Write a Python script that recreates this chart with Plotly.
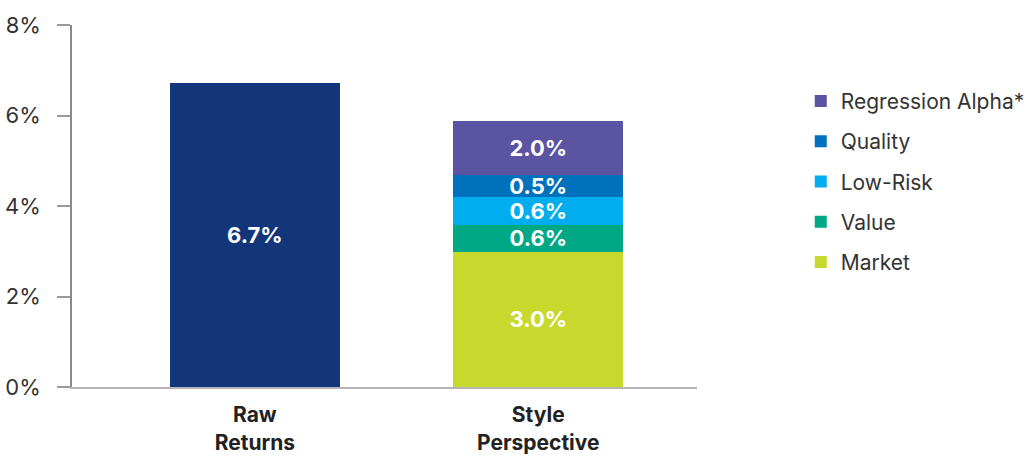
import plotly.graph_objects as go

categories = ["Raw<br>Returns", "Style<br>Perspective"]
raw_value = [6.71]
raw_label = ["6.7%"]
series_names = ["Market", "Value", "Low-Risk", "Quality", "Regression Alpha*"]
series_values = [2.99, 0.59, 0.62, 0.48, 1.20]
series_labels = ["3.0%", "0.6%", "0.6%", "0.5%", "2.0%"]
series_colors = ["#C8D92E", "#00A886", "#00AEEF", "#0071BC", "#5B54A3"]
raw_color = "#13367B"
y_ticks = [0, 2, 4, 6, 8]
y_ticktext = ["0%", "2%", "4%", "6%", "8%"]

FONT = "Inter"
label_font = dict(family=FONT, size=22, color="white", weight="bold")

fig = go.Figure()
fig.add_trace(go.Bar(
    x=[0], y=raw_value, width=0.6, marker=dict(color=raw_color, line=dict(width=0)),
    text=raw_label, textposition="inside", insidetextanchor="middle", textangle=0,
    textfont=label_font, showlegend=False, hoverinfo="skip",
))
n = len(series_names)
for i, (name, val, lab, col) in enumerate(zip(series_names, series_values, series_labels, series_colors)):
    fig.add_trace(go.Bar(
        x=[1], y=[val], width=0.6, name=name, legendgroup=name, legendrank=n - i,
        marker=dict(color=col, line=dict(width=0)),
        text=[lab], textposition="inside", insidetextanchor="middle", textangle=0,
        textfont=label_font, constraintext="none", hoverinfo="skip",
    ))

fig.update_layout(
    barmode="stack",
    width=1030, height=457,
    margin=dict(l=72, r=333, t=25, b=70, autoexpand=False),
    paper_bgcolor="white", plot_bgcolor="white",
    font=dict(family=FONT, color="#333333"),
    uniformtext=dict(minsize=21, mode="show"),
    legend=dict(
        x=1.166, y=0.846, xanchor="left", yanchor="top",
        traceorder="grouped", tracegroupgap=10,
        font=dict(family=FONT, size=21, color="#333333"),
        bgcolor="rgba(0,0,0,0)",
    ),
    xaxis=dict(
        range=[-0.645, 1.56], tickvals=[0, 1], ticktext=categories,
        showline=True, linecolor="#B5B5B5", linewidth=2, ticks="",
        ticklabelstandoff=8, automargin=False,
        showgrid=False, zeroline=False,
        tickfont=dict(family=FONT, size=21, color="#222222", weight="bold"),
    ),
    yaxis=dict(
        range=[0, 8], tickvals=y_ticks, ticktext=y_ticktext,
        showline=True, linecolor="#8A8A8A", linewidth=1.5,
        ticks="outside", ticklen=13, tickcolor="#9A9A9A", tickwidth=1.5,
        ticklabelstandoff=12, automargin=False,
        showgrid=False, zeroline=False,
        tickfont=dict(family=FONT, size=22, color="#333333"),
    ),
)

fig.write_html("out.html")
